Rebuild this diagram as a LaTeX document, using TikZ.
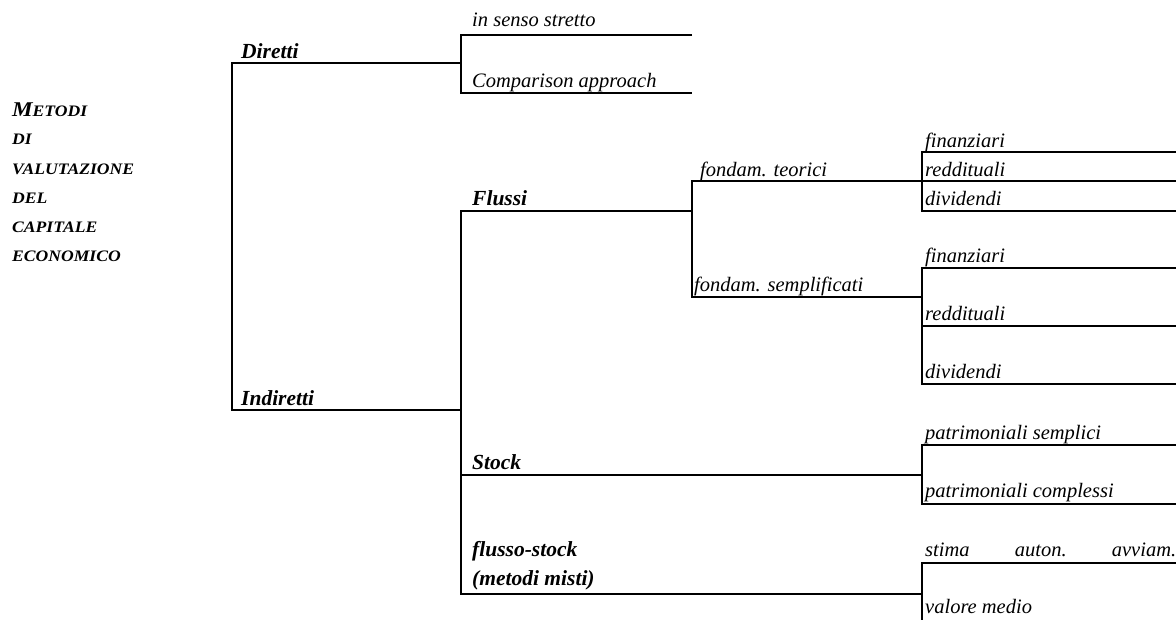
\documentclass[tikz,border=0pt]{standalone}
\usepackage{fontspec}
\setmainfont{Liberation Serif}
\newfontfamily\titlefont{Liberation Serif}[FakeStretch=1.1]
\begin{document}
\begin{tikzpicture}[x=1pt,y=-1pt,
  conn/.style={line width=2pt, line join=miter},
  lab/.style={anchor=base west, inner sep=0pt, font=\fontsize{20.5}{24}\selectfont\itshape},
  blab/.style={anchor=base west, inner sep=0pt, font=\fontsize{21.5}{25}\selectfont\bfseries\itshape},
  tlab/.style={anchor=base west, inner sep=0pt, font=\titlefont\fontsize{16}{20}\selectfont\bfseries\itshape}]
\useasboundingbox (0,0) rectangle (1176,619);

% ---- junction coordinates ----
\coordinate (r0) at (232,63);   \coordinate (r1) at (232,410);
\coordinate (d1) at (461,63);   \coordinate (i1) at (461,410);
\coordinate (ds0) at (461,35);  \coordinate (ds1) at (692,35);
\coordinate (dc0) at (461,93);  \coordinate (dc1) at (692,93);
\coordinate (f0) at (461,211);  \coordinate (f1) at (692,211);
\coordinate (s0) at (461,475);  \coordinate (s1) at (922,475);
\coordinate (m0) at (461,594);  \coordinate (m1) at (922,594);
\coordinate (ft0) at (692,181); \coordinate (ft1) at (922,181);
\coordinate (fs0) at (692,297); \coordinate (fs1) at (922,297);
\coordinate (a1) at (922,152);  \coordinate (a1e) at (1176,152);
\coordinate (a2e) at (1176,181);
\coordinate (a3) at (922,211);  \coordinate (a3e) at (1176,211);
\coordinate (b1) at (922,268);  \coordinate (b1e) at (1176,268);
\coordinate (b2) at (922,326);  \coordinate (b2e) at (1176,326);
\coordinate (b3) at (922,384);  \coordinate (b3e) at (1176,384);
\coordinate (p1) at (922,445);  \coordinate (p1e) at (1176,445);
\coordinate (p2) at (922,504);  \coordinate (p2e) at (1176,504);
\coordinate (q1) at (922,563);  \coordinate (q1e) at (1176,563);
\coordinate (q2) at (922,621);

% ---- connectors ----
\draw[conn] (d1) -- (r0) -- (r1) -- (i1);
\draw[conn] (ds1) -- (ds0) -- (dc0) -- (dc1);
\draw[conn] (f1) -- (f0) -- (m0) -- (m1);
\draw[conn] (s0) -- (s1);
\draw[conn] (ft1) -- (ft0) -- (fs0) -- (fs1);
\draw[conn] (a1e) -- (a1) -- (a3) -- (a3e);
\draw[conn] (ft1) -- (a2e);
\draw[conn] (b1e) -- (b1) -- (b3) -- (b3e);
\draw[conn] (b2) -- (b2e);
\draw[conn] (p1e) -- (p1) -- (p2) -- (p2e);
\draw[conn] (q1e) -- (q1) -- (q2);

% ---- title ----
\node[tlab] (t1) at (12,116) {{\fontsize{21}{24}\selectfont M}ETODI};
\node[tlab] (t2) at (12,144) {DI};
\node[tlab] (t3) at (12,174) {VALUTAZIONE};
\node[tlab] (t4) at (12,203) {DEL};
\node[tlab] (t5) at (12,232) {CAPITALE};
\node[tlab] (t6) at (12,261) {ECONOMICO};

% ---- labels ----
\node[blab] (ldir) at (241,58) {Diretti};
\node[blab] (lind) at (241,405) {Indiretti};
\node[lab] (lss) at (472,26) {in senso stretto};
\node[lab] (lca) at (472,87) {Comparison approach};
\node[blab] (lfl) at (472,205) {Flussi};
\node[blab] (lst) at (472,469) {Stock};
\node[blab] (lfs) at (472,556) {flusso-stock};
\node[blab] (lmm) at (472,585) {(metodi misti)};
\node[lab] (lft) at (700,176) {fondam. teorici};
\node[lab] (lfsm) at (694,291) {fondam. semplificati};
\node[lab] (lf1) at (925,147) {finanziari};
\node[lab] (lr1) at (925,176) {reddituali};
\node[lab] (ld1) at (925,205) {dividendi};
\node[lab] (lf2) at (925,262) {finanziari};
\node[lab] (lr2) at (925,320) {reddituali};
\node[lab] (ld2) at (925,378) {dividendi};
\node[lab] (lps) at (925,439) {patrimoniali semplici};
\node[lab] (lpc) at (925,497) {patrimoniali complessi};
\node[lab] (lsa) at (925,556) {\makebox[251pt][s]{stima\hfill auton.\hfill avviam.}};
\node[lab] (lvm) at (925,613) {valore medio};
\end{tikzpicture}
\end{document}
